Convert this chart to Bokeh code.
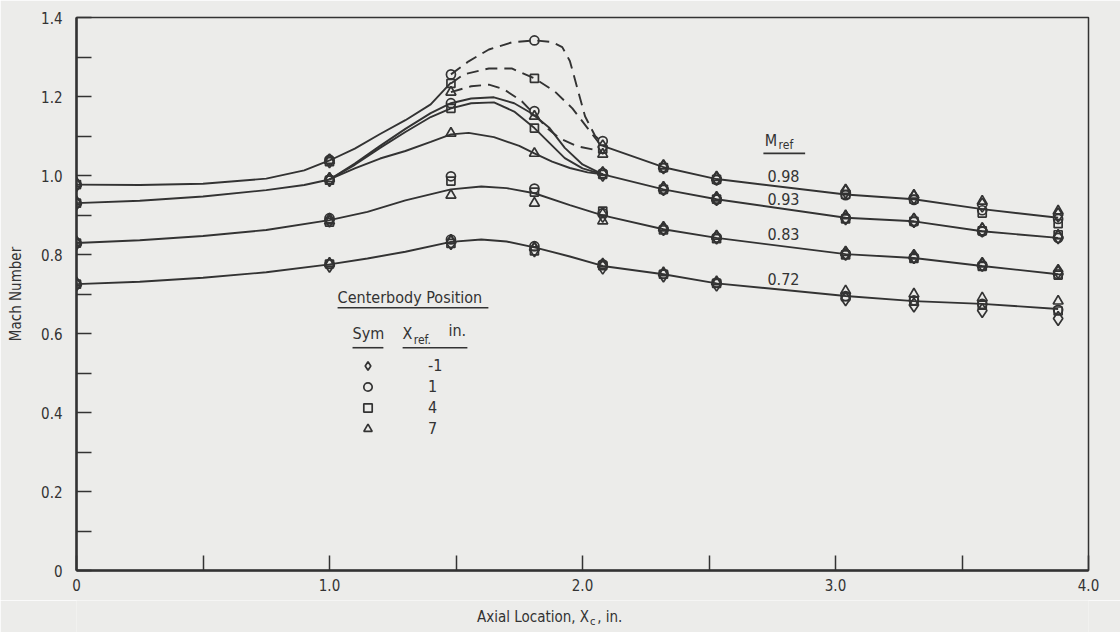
from bokeh.plotting import figure
from bokeh.layouts import column
from bokeh.models import FixedTicker, Label, Legend, LegendItem, BoxAnnotation
from bokeh.embed import file_html
from bokeh.resources import INLINE

nan = float("nan")

# ---------------- data ----------------
stations = [0.0, 1.0, 1.48, 1.81, 2.08, 2.32, 2.53, 3.04, 3.31, 3.58, 3.88]
mref_labels = ["0.98", "0.93", "0.83", "0.72"]
xref_labels = ["-1", "1", "4", "7"]

# measured points, one list per Mref (0.98, 0.93, 0.83, 0.72)
diamond_vals = [
    [0.977, 1.037, nan, nan, 1.072, 1.022, 0.993, 0.960, 0.945, 0.925, 0.900],
    [0.930, 0.990, nan, nan, 1.003, 0.967, 0.942, 0.893, 0.886, 0.862, 0.845],
    [0.829, 0.887, nan, nan, 0.899, 0.866, 0.844, 0.803, 0.795, 0.775, 0.757],
    [0.725, 0.773, 0.830, 0.812, 0.768, 0.748, 0.725, 0.688, 0.672, 0.658, 0.638],
]
circle_vals = [
    [0.977, 1.040, 1.256, 1.342, 1.087, 1.019, 0.989, 0.950, 0.938, 0.912, 0.890],
    [0.930, 0.990, 1.183, 1.163, 1.006, 0.964, 0.939, 0.892, 0.883, 0.858, 0.842],
    [0.829, 0.892, 0.998, 0.967, 0.905, 0.864, 0.843, 0.801, 0.791, 0.771, 0.750],
    [0.725, 0.776, 0.838, 0.821, 0.775, 0.751, 0.729, 0.695, 0.684, 0.675, 0.660],
]
square_vals = [
    [0.977, 1.035, 1.233, 1.246, 1.067, 1.020, 0.990, 0.952, 0.940, 0.905, 0.878],
    [0.930, 0.988, 1.170, 1.120, 1.003, 0.965, 0.940, 0.890, 0.884, 0.860, 0.850],
    [0.829, 0.882, 0.986, 0.958, 0.910, 0.862, 0.840, 0.799, 0.790, 0.770, 0.748],
    [0.725, 0.776, 0.828, 0.809, 0.772, 0.750, 0.727, 0.693, 0.682, 0.672, 0.657],
]
triangle_vals = [
    [0.980, 1.038, 1.211, 1.150, 1.054, 1.024, 0.995, 0.962, 0.950, 0.935, 0.910],
    [0.933, 0.992, 1.107, 1.056, 1.008, 0.969, 0.943, 0.898, 0.890, 0.866, 0.848],
    [0.831, 0.885, 0.950, 0.930, 0.885, 0.867, 0.846, 0.805, 0.796, 0.776, 0.757],
    [0.728, 0.778, 0.836, 0.818, 0.776, 0.754, 0.731, 0.708, 0.700, 0.690, 0.682],
]

# faired curves
c098_left_x = [0.0, 0.25, 0.5, 0.75, 0.9, 1.0, 1.1, 1.2, 1.3, 1.4, 1.48]
c098_left_y = [0.977, 0.976, 0.979, 0.992, 1.013, 1.038, 1.068, 1.105, 1.140, 1.180, 1.235]
c098_circ_x = [1.48, 1.55, 1.63, 1.72, 1.81, 1.88, 1.92, 1.95, 1.98, 2.01, 2.05, 2.08]
c098_circ_y = [1.256, 1.289, 1.319, 1.337, 1.342, 1.338, 1.325, 1.290, 1.220, 1.150, 1.100, 1.082]
c098_sq_x = [1.48, 1.53, 1.63, 1.72, 1.81, 1.89, 1.96, 2.02, 2.08]
c098_sq_y = [1.233, 1.256, 1.271, 1.271, 1.246, 1.213, 1.170, 1.120, 1.070]
c098_tri_x = [1.48, 1.56, 1.63, 1.69, 1.76, 1.81, 1.86, 1.91, 1.98, 2.04, 2.08]
c098_tri_y = [1.211, 1.226, 1.230, 1.218, 1.188, 1.155, 1.120, 1.094, 1.074, 1.066, 1.056]
c098_right_x = [2.08, 2.32, 2.53, 3.04, 3.31, 3.58, 3.88]
c098_right_y = [1.075, 1.021, 0.991, 0.952, 0.940, 0.915, 0.893]

c093_left_x = [0.0, 0.25, 0.5, 0.75, 0.9, 1.0]
c093_left_y = [0.930, 0.936, 0.947, 0.963, 0.976, 0.990]
c093_a_x = [1.0, 1.1, 1.2, 1.3, 1.4, 1.48, 1.56, 1.65, 1.73, 1.80, 1.87, 1.93, 2.0, 2.08]
c093_a_y = [0.990, 1.030, 1.075, 1.118, 1.158, 1.183, 1.195, 1.198, 1.183, 1.157, 1.120, 1.070, 1.028, 1.003]
c093_b_x = [1.0, 1.1, 1.2, 1.3, 1.4, 1.48, 1.56, 1.65, 1.73, 1.81, 1.87, 1.93, 2.0, 2.08]
c093_b_y = [0.990, 1.027, 1.070, 1.110, 1.148, 1.170, 1.183, 1.185, 1.162, 1.120, 1.082, 1.044, 1.018, 1.003]
c093_c_x = [1.0, 1.1, 1.2, 1.3, 1.4, 1.48, 1.55, 1.65, 1.75, 1.81, 1.88, 1.95, 2.02, 2.08]
c093_c_y = [0.990, 1.018, 1.043, 1.062, 1.085, 1.104, 1.108, 1.097, 1.075, 1.056, 1.035, 1.019, 1.008, 1.003]
c093_right_x = [2.08, 2.32, 2.53, 3.04, 3.31, 3.58, 3.88]
c093_right_y = [1.003, 0.965, 0.940, 0.893, 0.884, 0.859, 0.842]

c083_x = [0.0, 0.25, 0.5, 0.75, 1.0, 1.15, 1.3, 1.48, 1.6, 1.7, 1.81, 1.95, 2.08, 2.32, 2.53, 3.04, 3.31, 3.58, 3.88]
c083_y = [0.829, 0.836, 0.847, 0.862, 0.887, 0.908, 0.937, 0.965, 0.972, 0.968, 0.955, 0.925, 0.899, 0.864, 0.842, 0.801, 0.791, 0.771, 0.750]
c072_x = [0.0, 0.25, 0.5, 0.75, 1.0, 1.15, 1.3, 1.48, 1.6, 1.7, 1.81, 1.95, 2.08, 2.32, 2.53, 3.04, 3.31, 3.58, 3.88]
c072_y = [0.725, 0.731, 0.741, 0.755, 0.775, 0.790, 0.807, 0.832, 0.838, 0.833, 0.818, 0.795, 0.771, 0.750, 0.727, 0.695, 0.682, 0.675, 0.662]

y_ticks = [0.0, 0.2, 0.4, 0.6, 0.8, 1.0, 1.2, 1.4]
y_tick_labels = ["0", "0.2", "0.4", "0.6", "0.8", "1.0", "1.2", "1.4"]
y_minor = [0.1, 0.3, 0.5, 0.7, 0.9, 1.1, 1.3]
x_ticks = [0.0, 1.0, 2.0, 3.0, 4.0]
x_tick_labels = ["0", "1.0", "2.0", "3.0", "4.0"]
x_minor = [0.5, 1.5, 2.5, 3.5]

# ---------------- style ----------------
INK = "#333333"
BG = "#ececea"
FONT = "'Liberation Sans Narrow', 'DejaVu Sans Condensed', 'Liberation Sans', sans-serif"

p = figure(width=1120, height=600, x_range=(0, 4.0), y_range=(0, 1.4),
           output_backend="svg", toolbar_location=None,
           min_border_left=76, min_border_right=32, min_border_top=17, min_border_bottom=30)
p.background_fill_color = BG
p.border_fill_color = BG
p.grid.visible = False
p.outline_line_color = INK
p.outline_line_width = 1.5

for ax in (p.xaxis[0], p.yaxis[0]):
    ax.axis_line_color = INK
    ax.axis_line_width = 2.5
    ax.major_tick_in = 15
    ax.major_tick_out = 0
    ax.minor_tick_in = 15
    ax.minor_tick_out = 0
    ax.major_tick_line_color = INK
    ax.minor_tick_line_color = INK
    ax.major_tick_line_width = 1.5
    ax.minor_tick_line_width = 1.5
    ax.major_label_text_font = FONT
    ax.major_label_text_font_size = "15px"
    ax.major_label_text_color = INK
    ax.axis_label_text_font = FONT
    ax.axis_label_text_font_style = "normal"
    ax.axis_label_text_color = INK

p.yaxis[0].ticker = FixedTicker(ticks=y_ticks, minor_ticks=y_minor)
p.yaxis[0].major_label_overrides = {v: s for v, s in zip(y_ticks, y_tick_labels)}
p.yaxis[0].major_label_standoff = 14
p.yaxis[0].axis_label = "Mach Number"
p.yaxis[0].axis_label_text_font_size = "15px"
p.yaxis[0].axis_label_standoff = 13

p.xaxis[0].ticker = FixedTicker(ticks=x_ticks, minor_ticks=x_minor)
p.xaxis[0].major_label_overrides = {v: s for v, s in zip(x_ticks, x_tick_labels)}
p.xaxis[0].major_label_standoff = 8

# ---------------- curves ----------------
def solid(xs, ys):
    p.line(xs, ys, line_color=INK, line_width=1.9)

def dashed(xs, ys):
    p.line(xs, ys, line_color=INK, line_width=1.9, line_dash="12 7")

solid(c098_left_x, c098_left_y)
dashed(c098_circ_x, c098_circ_y)
dashed(c098_sq_x, c098_sq_y)
dashed(c098_tri_x, c098_tri_y)
solid(c098_right_x, c098_right_y)
solid(c093_left_x, c093_left_y)
solid(c093_a_x, c093_a_y)
solid(c093_b_x, c093_b_y)
solid(c093_c_x, c093_c_y)
solid(c093_right_x, c093_right_y)
solid(c083_x, c083_y)
solid(c072_x, c072_y)

# ---------------- markers ----------------
def flatten(vals):
    xs, ys = [], []
    for row in vals:
        for xv, yv in zip(stations, row):
            if yv == yv:
                xs.append(xv)
                ys.append(yv)
    return xs, ys

marker_specs = [
    (diamond_vals, "diamond", 14),
    (circle_vals, "circle", 9),
    (square_vals, "square", 8),
    (triangle_vals, "triangle", 10),
]
renderers = []
for vals, marker, size in marker_specs:
    xs, ys = flatten(vals)
    r = p.scatter(xs, ys, marker=marker, size=size, line_color=INK, line_width=1.7,
                  fill_color=BG, fill_alpha=0.0)
    renderers.append(r)

legend = Legend(items=[LegendItem(label=lab, renderers=[r]) for lab, r in zip(xref_labels, renderers)],
                location=(281, 131), orientation="vertical",
                glyph_width=21, glyph_height=21, label_height=21, spacing=0,
                label_standoff=50, padding=0, margin=0,
                background_fill_alpha=0.0, border_line_alpha=0.0,
                label_text_font=FONT, label_text_font_size="16px", label_text_color=INK)
p.add_layout(legend)

# ---------------- texts ----------------
def text(fig, x, y, s, size="16px", align="left"):
    fig.add_layout(Label(x=x, y=y, text=s, text_font=FONT, text_font_size=size,
                         text_color=INK, text_align=align, text_baseline="middle"))

def underline(x0, x1, y):
    p.add_layout(BoxAnnotation(left=x0, right=x1, top=y, bottom=y - 0.004,
                               fill_color=INK, fill_alpha=1.0, line_alpha=0.0, level="overlay"))

# Mref curve labels
text(p, 2.720, 1.089, "M", "16px")
text(p, 2.775, 1.077, "ref", "12px")
underline(2.715, 2.88, 1.058)
for lab, yv in zip(mref_labels, [0.998, 0.940, 0.852, 0.738]):
    text(p, 2.731, yv, lab, "16px")

# legend headings
text(p, 1.032, 0.690, "Centerbody Position", "16px")
underline(1.032, 1.628, 0.667)
text(p, 1.091, 0.601, "Sym", "16px")
underline(1.091, 1.213, 0.566)
text(p, 1.289, 0.601, "X", "16px")
text(p, 1.333, 0.584, "ref.", "12px")
text(p, 1.470, 0.607, "in.", "16px")
underline(1.289, 1.545, 0.566)

# ---------------- x axis title strip (with subscript) ----------------
p2 = figure(width=1120, height=32, x_range=p.x_range, y_range=(0, 32),
            output_backend="svg", toolbar_location=None,
            min_border_left=76, min_border_right=32, min_border_top=0, min_border_bottom=0)
p2.axis.visible = False
p2.grid.visible = False
p2.outline_line_color = None
p2.background_fill_color = BG
p2.border_fill_color = BG
text(p2, 2.026, 16, "Axial Location, X", "15px", "right")
text(p2, 2.030, 11, "c", "11px")
text(p2, 2.058, 16, ", in.", "15px")

layout = column(p, p2, spacing=0)
open("out.html", "w").write(file_html(layout, INLINE))
